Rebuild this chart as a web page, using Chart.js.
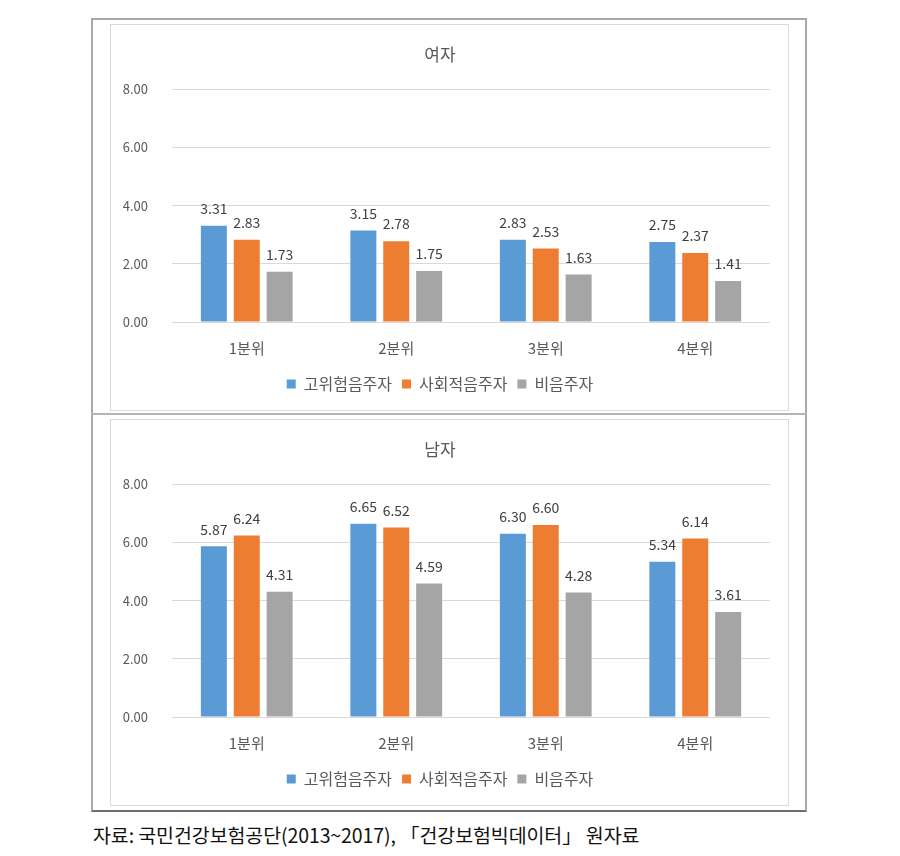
<!DOCTYPE html>
<html>
<head>
<meta charset="utf-8">
<script src="https://cdn.jsdelivr.net/npm/chart.js@4"></script>
<style>
  html, body { margin:0; padding:0; background:#fff; width:900px; height:856px; overflow:hidden; }
  .abs { position:absolute; }
  #outer { left:91px; top:18px; width:716px; height:794px; box-sizing:border-box;
           border:2px solid #a8a8a8; border-bottom-color:#6e6e6e; }
  #sep { left:91px; top:413px; width:716px; height:2px; background:#b4b4b4; }
  .box { width:679px; height:387px; box-sizing:border-box; border:1px solid #dadada; }
  canvas { position:absolute; }
  #src { left:93px; top:821px; font-family:'Noto Sans CJK KR', sans-serif; font-size:19.5px;
         font-weight:400; line-height:28px; color:#111; white-space:nowrap; letter-spacing:-0.1px; }
</style>
</head>
<body>
<div id="outer" class="abs"></div>
<div id="sep" class="abs"></div>
<div class="abs box" style="left:110px; top:24px;"></div>
<div class="abs box" style="left:110px; top:419px;"></div>
<canvas id="c1" width="679" height="387" style="left:110px; top:24px;"></canvas>
<canvas id="c2" width="679" height="387" style="left:110px; top:419px;"></canvas>
<div id="src" class="abs">자료: 국민건강보험공단(2013~2017), 「건강보험빅데이터」 원자료</div>
<script>
// ---- data ----
const categories = ['1분위', '2분위', '3분위', '4분위'];
const seriesNames = ['고위험음주자', '사회적음주자', '비음주자'];
const seriesColors = ['#5B9BD5', '#ED7D31', '#A5A5A5'];
const yTicks = [0, 2, 4, 6, 8];

const femaleTitle = '여자';
const femaleHighRisk = [3.31, 3.15, 2.83, 2.75];
const femaleSocial   = [2.83, 2.78, 2.53, 2.37];
const femaleNon      = [1.73, 1.75, 1.63, 1.41];

const maleTitle = '남자';
const maleHighRisk = [5.87, 6.65, 6.30, 5.34];
const maleSocial   = [6.24, 6.52, 6.60, 6.14];
const maleNon      = [4.31, 4.59, 4.28, 3.61];

const FONT = "'Noto Sans CJK KR', 'Noto Sans', sans-serif";
const TXT = '#595959';

const valueLabels = {
  id: 'valueLabels',
  afterDatasetsDraw(chart) {
    const ctx = chart.ctx;
    ctx.save();
    ctx.font = '14px ' + FONT;
    ctx.fillStyle = '#404040';
    ctx.textAlign = 'center';
    ctx.textBaseline = 'middle';
    chart.data.datasets.forEach((ds, di) => {
      const meta = chart.getDatasetMeta(di);
      meta.data.forEach((el, i) => {
        ctx.fillText(ds.data[i].toFixed(2), el.x, el.y - 17);
      });
    });
    ctx.restore();
  }
};

function makeChart(id, title, s1, s2, s3) {
  const vals = [s1, s2, s3];
  new Chart(document.getElementById(id), {
    type: 'bar',
    data: {
      labels: categories,
      datasets: seriesNames.map((n, k) => ({
        label: n,
        data: vals[k],
        backgroundColor: seriesColors[k],
        borderWidth: 0,
        categoryPercentage: 0.66,
        barPercentage: 0.79
      }))
    },
    options: {
      responsive: false,
      animation: false,
      devicePixelRatio: 1,
      layout: { padding: { left: 0, right: 19, top: 0, bottom: 9 } },
      plugins: {
        title: {
          display: true, text: title, color: TXT,
          font: { family: FONT, size: 17, weight: 'normal' },
          padding: { top: 20, bottom: 25 }
        },
        legend: {
          position: 'bottom',
          labels: {
            boxWidth: 9, boxHeight: 9, padding: 10, color: TXT,
            font: { family: FONT, size: 16 }
          }
        },
        tooltip: { enabled: false }
      },
      scales: {
        x: {
          grid: { display: false },
          border: { display: false },
          ticks: { color: TXT, padding: 9, font: { family: FONT, size: 15 } },
          afterFit(scale) { scale.height = 44; }
        },
        y: {
          min: 0, max: 8,
          afterBuildTicks(scale) { scale.ticks = yTicks.map(v => ({ value: v })); },
          grid: { color: '#d9d9d9', drawTicks: false, lineWidth: 1 },
          border: { display: false },
          ticks: {
            color: TXT, padding: 24, font: { family: FONT, size: 13 },
            callback: v => Number(v).toFixed(2)
          },
          afterFit(scale) { scale.width = 62; }
        }
      }
    },
    plugins: [valueLabels]
  });
}

makeChart('c1', femaleTitle, femaleHighRisk, femaleSocial, femaleNon);
makeChart('c2', maleTitle, maleHighRisk, maleSocial, maleNon);
</script>
</body>
</html>
